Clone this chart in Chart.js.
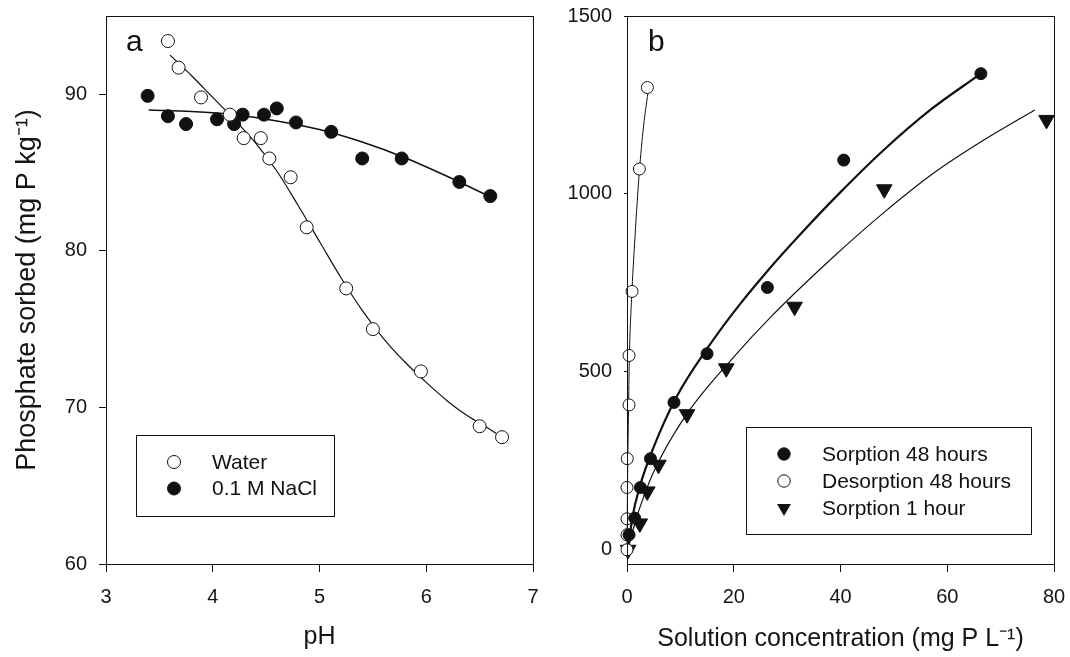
<!DOCTYPE html>
<html>
<head>
<meta charset="utf-8">
<script src="https://cdn.jsdelivr.net/npm/chart.js@4.4.1/dist/chart.umd.min.js"></script>
<style>
html, body { margin: 0; padding: 0; background: #fff; }
#wrap { position: relative; width: 1070px; height: 657px; }
canvas { position: absolute; top: 0; }
#chartA { left: 0; }
#chartB { left: 545px; }
</style>
</head>
<body>
<div id="wrap">
  <canvas id="chartA" width="545" height="657"></canvas>
  <canvas id="chartB" width="525" height="657"></canvas>
</div>
<script>
// ---- panel a : pH effect ----
const phWater   = [3.58, 3.68, 3.89, 4.16, 4.29, 4.45, 4.53, 4.73, 4.88, 5.25, 5.50, 5.95, 6.50, 6.71];
const sorbWater = [93.4, 91.7, 89.8, 88.7, 87.2, 87.2, 85.9, 84.7, 81.5, 77.6, 75.0, 72.3, 68.8, 68.1];
const phNaCl    = [3.39, 3.58, 3.75, 4.04, 4.20, 4.28, 4.48, 4.60, 4.78, 5.11, 5.40, 5.77, 6.31, 6.60];
const sorbNaCl  = [89.9, 88.6, 88.1, 88.4, 88.1, 88.7, 88.7, 89.1, 88.2, 87.6, 85.9, 85.9, 84.4, 83.5];

// fitted curves
const fitWaterPH = [3.60, 3.80, 4.00, 4.20, 4.40, 4.60, 4.80, 5.00, 5.20, 5.40, 5.60, 5.80, 6.00, 6.20, 6.40, 6.55, 6.71];
const fitWaterY  = [92.5, 91.2, 89.8, 88.4, 86.9, 85.1, 82.9, 80.6, 78.3, 76.2, 74.4, 72.9, 71.6, 70.4, 69.4, 68.8, 68.1];
const fitNaClPH  = [3.40, 3.80, 4.20, 4.60, 5.00, 5.40, 5.80, 6.20, 6.60];
const fitNaClY   = [89.0, 88.9, 88.7, 88.3, 87.75, 86.95, 85.95, 84.75, 83.45];

const xTicksA = [3, 4, 5, 6, 7];
const yTicksA = [60, 70, 80, 90];

// ---- panel b : isotherms ----
const concSorp48 = [0.38, 1.44, 2.5, 4.4, 8.8, 15.0, 26.3, 40.6, 66.3];
const qSorp48    = [42, 89, 175, 256, 414, 551, 737, 1095, 1338];
const concDes48  = [0, 0, 0, 0, 0.05, 0.38, 0.38, 0.94, 2.32, 3.82];
const qDes48     = [0, 42, 87, 175, 256, 407, 546, 726, 1070, 1299];
const concSorp1  = [0.2, 2.4, 3.8, 5.9, 11.25, 18.6, 31.4, 48.2, 78.6];
const qSorp1     = [0, 74, 164, 239, 381, 510, 683, 1013, 1208];

const fitSorp48X = [0.2, 1, 2.4, 4.9, 9.3, 15, 20, 26, 33, 40, 48, 57, 66.3];
const fitSorp48Y = [0, 90, 178, 285, 430, 565, 668, 778, 895, 1005, 1122, 1238, 1338];
const fitDes48X  = [0, 0.05, 0.15, 0.3, 0.45, 0.85, 1.5, 2.3, 3.1, 4.07];
const fitDes48Y  = [0, 100, 250, 407, 546, 703, 880, 1060, 1190, 1300];
const fitSorp1X  = [0.2, 1, 3.6, 6.1, 11.75, 19.9, 27, 38.6, 48, 57.4, 66.7, 76.4];
const fitSorp1Y  = [0, 50, 169, 253, 393, 540, 655, 822, 946, 1058, 1150, 1236];

const xTicksB = [0, 20, 40, 60, 80];
const yTicksB = [0, 500, 1000, 1500];

const FONT = '"Liberation Sans", Arial, Helvetica, sans-serif';
Chart.defaults.font.family = FONT;
Chart.defaults.color = '#151515';

function toXY(xs, ys) {
    return xs.map((x, i) => ({x: x, y: ys[i]}));
}

function drawMarker(ctx, kind, x, y, r) {
    ctx.beginPath();
    if (kind == 'tri') {
        ctx.moveTo(x - r * 0.866, y - r * 0.5);
        ctx.lineTo(x + r * 0.866, y - r * 0.5);
        ctx.lineTo(x, y + r);
        ctx.closePath();
        ctx.fillStyle = '#111';
        ctx.fill();
        return;
    }
    ctx.arc(x, y, r, 0, Math.PI * 2);
    ctx.fillStyle = kind == 'open' ? '#fff' : '#111';
    ctx.fill();
    ctx.lineWidth = 1;
    ctx.strokeStyle = '#111';
    ctx.stroke();
}

// box round the plot, panel letter and the legend box
const framePlugin = {
    id: 'frame',
    afterDraw(chart, args, opts) {
        const ctx = chart.ctx;
        const a = chart.chartArea;
        ctx.save();
        ctx.strokeStyle = '#111';
        ctx.lineWidth = 1;
        ctx.strokeRect(Math.round(a.left) + 0.5, Math.round(a.top) + 0.5,
            Math.round(a.right - a.left), Math.round(a.bottom - a.top));

        ctx.fillStyle = '#111';
        ctx.font = '30px ' + FONT;
        ctx.textBaseline = 'alphabetic';
        ctx.fillText(opts.letter, a.left + opts.letterX, a.top + opts.letterY);

        const L = opts.legend;
        ctx.strokeRect(Math.round(a.left + L.x) + 0.5, Math.round(a.top + L.y) + 0.5, L.w, L.h);
        ctx.font = L.size + 'px ' + FONT;
        ctx.textBaseline = 'middle';
        L.items.forEach((it, i) => {
            const yy = a.top + L.y + L.row0 + i * L.rowH;
            drawMarker(ctx, it.kind, a.left + L.x + L.mx, yy, it.r);
            ctx.fillStyle = '#111';
            ctx.fillText(it.label, a.left + L.x + L.tx, yy + 1);
        });
        ctx.restore();
    }
};

function markerSet(data, kind, r) {
    return {
        data: data,
        pointStyle: kind == 'tri' ? 'triangle' : 'circle',
        rotation: kind == 'tri' ? 180 : 0,
        pointRadius: r,
        pointBackgroundColor: kind == 'open' ? '#fff' : '#111',
        pointBorderColor: '#111',
        pointBorderWidth: 1,
        showLine: false,
        clip: false,
        order: 0
    };
}

function fitSet(data, width) {
    return {
        data: data,
        showLine: true,
        borderColor: '#111',
        borderWidth: width,
        pointRadius: 0,
        tension: 0.4,
        cubicInterpolationMode: 'monotone',
        clip: false,
        order: 1
    };
}

function axisX(min, max, ticks, title, titlePad) {
    return {
        type: 'linear', min: min, max: max,
        afterBuildTicks: s => { s.ticks = ticks.map(v => ({value: v})); },
        afterFit: s => { s.height = 93; s.paddingLeft = 0; s.paddingRight = 0; },
        ticks: {font: {size: 20}, padding: 13, color: '#151515', callback: v => String(v)},
        grid: {drawOnChartArea: false, drawTicks: true, tickLength: 8, color: '#111'},
        border: {display: false},
        title: {display: true, text: title, font: {size: 25}, color: '#151515',
            padding: {top: 0, bottom: titlePad}}
    };
}

function axisY(min, max, ticks, width, tickLen, title) {
    return {
        type: 'linear', min: min, max: max,
        afterBuildTicks: s => { s.ticks = ticks.map(v => ({value: v})); },
        afterFit: s => { s.width = width; s.paddingTop = 0; s.paddingBottom = 0; },
        ticks: {font: {size: 20}, padding: 12, color: '#151515', callback: v => String(v)},
        grid: {drawOnChartArea: false, drawTicks: true, tickLength: tickLen, color: '#111'},
        border: {display: false},
        title: {display: !!title, text: title || '', font: {size: 27}, color: '#151515',
            padding: {top: 11, bottom: 0}}
    };
}

new Chart(document.getElementById('chartA'), {
    type: 'scatter',
    data: {
        datasets: [
            markerSet(toXY(phWater, sorbWater), 'open', 6.5),
            markerSet(toXY(phNaCl, sorbNaCl), 'fill', 6.5),
            fitSet(toXY(fitWaterPH, fitWaterY), 1.2),
            fitSet(toXY(fitNaClPH, fitNaClY), 1.5)
        ]
    },
    options: {
        responsive: false,
        animation: false,
        layout: {padding: {top: 16, right: 12, left: 0, bottom: 0}},
        scales: {
            x: axisX(3, 7, xTicksA, 'pH', 5),
            y: axisY(60, 95, yTicksA, 106, 7, 'Phosphate sorbed (mg P kg\u207B\u00B9)')
        },
        plugins: {
            legend: {display: false},
            tooltip: {enabled: false},
            frame: {
                letter: 'a', letterX: 20, letterY: 35,
                legend: {
                    x: 30, y: 419, w: 198, h: 81, mx: 38, tx: 76, row0: 27, rowH: 26.5, size: 21,
                    items: [
                        {kind: 'open', r: 6.5, label: 'Water'},
                        {kind: 'fill', r: 6.5, label: '0.1 M NaCl'}
                    ]
                }
            }
        }
    },
    plugins: [framePlugin]
});

new Chart(document.getElementById('chartB'), {
    type: 'scatter',
    data: {
        datasets: [
            markerSet(toXY(concSorp48, qSorp48), 'fill', 6),
            markerSet(toXY(concDes48, qDes48), 'open', 6),
            markerSet(toXY(concSorp1, qSorp1), 'tri', 9),
            fitSet(toXY(fitSorp48X, fitSorp48Y), 2.2),
            fitSet(toXY(fitDes48X, fitDes48Y), 1),
            fitSet(toXY(fitSorp1X, fitSorp1Y), 1.2)
        ]
    },
    options: {
        responsive: false,
        animation: false,
        layout: {padding: {top: 16, right: 16, left: 0, bottom: 0}},
        scales: {
            x: axisX(0, 80, xTicksB, 'Solution concentration (mg P L\u207B\u00B9)', 3),
            y: axisY(-40, 1500, yTicksB, 82, 3, null)
        },
        plugins: {
            legend: {display: false},
            tooltip: {enabled: false},
            frame: {
                letter: 'b', letterX: 21, letterY: 35,
                legend: {
                    x: 119, y: 411, w: 285, h: 107, mx: 38, tx: 76, row0: 27, rowH: 27, size: 21,
                    items: [
                        {kind: 'fill', r: 6.2, label: 'Sorption 48 hours'},
                        {kind: 'open', r: 6.2, label: 'Desorption 48 hours'},
                        {kind: 'tri', r: 8, label: 'Sorption 1 hour'}
                    ]
                }
            }
        }
    },
    plugins: [framePlugin]
});
</script>
</body>
</html>
